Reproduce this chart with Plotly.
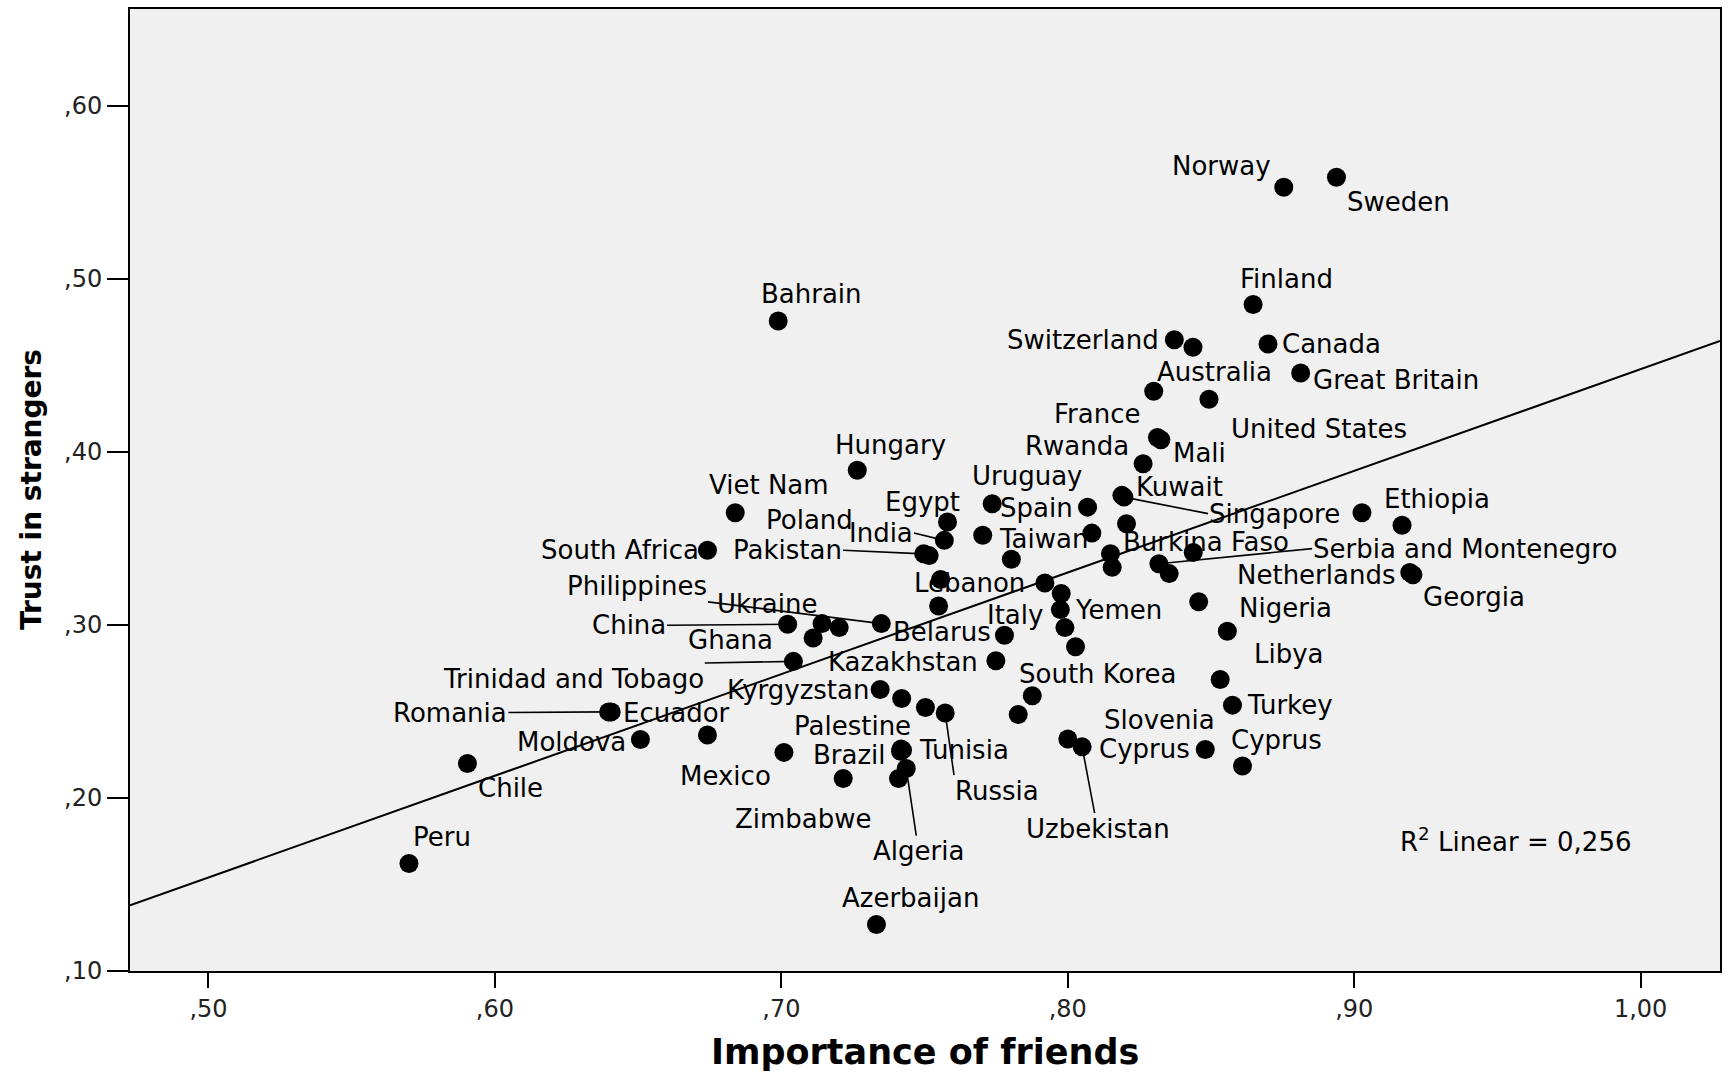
import numpy as np
import plotly.graph_objects as go

# ---------------- data ----------------
countries = [
    "Norway", "Sweden", "Finland", "Switzerland", None, "Canada", "Australia",
    "United States", "Great Britain", "France", "Mali", "Rwanda", "Kuwait",
    "Singapore", None, "Ethiopia", "Hungary", "Viet Nam", "Bahrain", "Uruguay",
    "Spain", "Egypt", "India", "Pakistan", "Poland", "Taiwan", None, None,
    "Burkina Faso", None, None, "Serbia and Montenegro", None, "Netherlands",
    "Georgia", "Nigeria", "Libya", "South Africa", None, None, "Lebanon", None,
    "Philippines", None, "Yemen", "China", None, "Ukraine", "Italy", "Belarus",
    "Ghana", None, "Trinidad and Tobago", "Kazakhstan", "South Korea", None,
    "Kyrgyzstan", None, None, "Russia", "Slovenia", "Turkey", "Romania",
    "Ecuador", "Moldova", None, "Mexico", "Palestine", "Brazil", "Tunisia",
    "Zimbabwe", "Algeria", None, None, "Uzbekistan", "Cyprus", "Cyprus",
    "Chile", "Peru", "Azerbaijan",
]
importance_of_friends = [
    0.8754, 0.8938, 0.8647, 0.8372, 0.8437, 0.8699, 0.8300,
    0.8493, 0.8813, 0.8313, 0.8325, 0.8263, 0.8189,
    0.8196, 0.9027, 0.9167, 0.7265, 0.6839, 0.6989, 0.7736,
    0.8069, 0.7580, 0.7569, 0.7497, 0.7516, 0.7703, 0.8084, 0.8205,
    0.8149, 0.8155, 0.8438, 0.8318, 0.8354, 0.9194,
    0.9205, 0.8457, 0.8557, 0.6742, 0.7803, 0.7556, 0.7920, 0.7977,
    0.7349, 0.7549, 0.7974, 0.7022, 0.7142, 0.7202, 0.7990, 0.7779,
    0.7111, 0.8027, 0.7042, 0.7749, 0.7876, 0.7827,
    0.7345, 0.7420, 0.7503, 0.7572, 0.8532, 0.8575, 0.6397,
    0.6406, 0.6508, 0.6742, 0.7009, 0.7418, 0.7416, 0.7423,
    0.7216, 0.7436, 0.7409, 0.8000, 0.8050, 0.8480, 0.8610,
    0.5904, 0.5700, 0.7332,
]
trust_in_strangers = [
    0.5528, 0.5586, 0.4851, 0.4647, 0.4604, 0.4623, 0.4350,
    0.4303, 0.4455, 0.4082, 0.4069, 0.3931, 0.3748,
    0.3738, 0.3648, 0.3575, 0.3893, 0.3648, 0.4755, 0.3700,
    0.3680, 0.3594, 0.3488, 0.3410, 0.3400, 0.3518, 0.3530, 0.3584,
    0.3411, 0.3332, 0.3418, 0.3353, 0.3296, 0.3302,
    0.3289, 0.3133, 0.2963, 0.3431, 0.3379, 0.3262, 0.3242, 0.3181,
    0.3007, 0.3109, 0.3088, 0.3003, 0.3007, 0.2984, 0.2984, 0.2940,
    0.2924, 0.2873, 0.2789, 0.2792, 0.2590, 0.2482,
    0.2626, 0.2574, 0.2522, 0.2491, 0.2684, 0.2536, 0.2497,
    0.2497, 0.2338, 0.2363, 0.2263, 0.2283, 0.2270, 0.2276,
    0.2112, 0.2170, 0.2112, 0.2340, 0.2295, 0.2280, 0.2184,
    0.2199, 0.1621, 0.1269,
]

x_ticks = [0.5, 0.6, 0.7, 0.8, 0.9, 1.0]
x_tick_labels = [",50", ",60", ",70", ",80", ",90", "1,00"]
y_ticks = [0.1, 0.2, 0.3, 0.4, 0.5, 0.6]
y_tick_labels = [",10", ",20", ",30", ",40", ",50", ",60"]
x_title = "Importance of friends"
y_title = "Trust in strangers"
r2_text = "R<sup>2</sup> Linear = 0,256"

# ---------------- label placement (pixel offsets from the point) ----------------
# (x anchor, y anchor, dx, dy, leader line) ; offsets measured on a 1568 px wide copy
S = 1729 / 1568
label_place = [
    ("right", "middle", -10.9, -19.7, False), ("left", "middle", 8.4, 22.1, False),
    ("center", "middle", 30.6, -23.3, False), ("right", "middle", -12.6, 0, False), None,
    ("left", "middle", 11.9, 0, False), ("left", "middle", 1.7, -17.3, False),
    ("left", "middle", 18.8, 26.6, False), ("left", "middle", 10.2, 6.7, False),
    ("right", "middle", -14.8, -21.1, False), ("left", "middle", 9.8, 12, False),
    ("right", "middle", -12.2, -15.8, False), ("left", "middle", 12.1, -7.6, False),
    ("left", "middle", 76.3, 15, True), None, ("center", "middle", 31.7, -24.1, False),
    ("center", "middle", 29.7, -23.3, False), ("center", "middle", 30.3, -24.8, False),
    ("center", "middle", 30.5, -24.2, False), ("center", "middle", 31.7, -24.8, False),
    ("right", "middle", -12, 0.6, False), ("center", "middle", -23, -18.1, False),
    ("right", "middle", -27.6, -6.7, True), ("right", "middle", -73.1, -3.3, True),
    ("right", "middle", -67.7, -32.5, False), ("left", "middle", 13.8, 3.1, False), None, None,
    ("left", "middle", 10.4, -10.6, False), None, None,
    ("left", "middle", 139, -13.7, True), None, ("right", "middle", -11.9, 2.4, False),
    ("left", "middle", 8, 20, False), ("left", "middle", 35.7, 5.5, False),
    ("left", "middle", 23.2, 20.3, False), ("right", "middle", -7, 0, False), None, None,
    ("right", "middle", -16.7, 0, False), None,
    ("right", "bottom", -157.2, -19.7, True), None, ("left", "middle", 12.8, 0.6, False),
    ("right", "middle", -109.4, 0.9, True), None, ("right", "middle", -19, -21.8, False),
    ("right", "middle", -19.1, -11.2, False), ("right", "middle", -11.1, -3, False),
    ("right", "middle", -35.4, 1.5, False), None,
    ("right", "top", -80.4, 1.5, True), ("right", "middle", -15.6, 1, False),
    ("center", "middle", 59.2, -19.6, False), None,
    ("right", "middle", -9.4, 0.6, False), None, None,
    ("left", "top", 8, 56.5, True), ("right", "middle", -3.4, 36.3, False),
    ("left", "middle", 11.9, 0, False), ("right", "middle", -90.9, 0.6, True),
    ("left", "middle", 10.2, 0.6, False), ("right", "middle", -12.1, 2.2, False), None,
    ("right", "middle", -10.4, 21.5, False), ("center", "middle", -44.1, -20.9, False),
    ("right", "middle", -12.1, 3.7, False), ("left", "middle", 13.7, 0.1, False),
    ("center", "middle", -35.9, 36.9, False), ("center", "middle", 11.2, 75, True), None, None,
    ("center", "middle", 14, 74.1, True), ("right", "middle", -12.9, 0, False),
    ("center", "middle", 30.9, -23.6, False),
    ("left", "middle", 9, 21.8, False), ("center", "middle", 29.5, -23.6, False),
    ("center", "middle", 30.5, -23.6, False),
]

x_range = [0.4726, 1.0277]
y_range = [0.10, 0.6558]

FONT = "DejaVu Sans"
label_font = dict(family=FONT, size=26, color="#000000")

# ---------------- figure ----------------
xv = np.array(importance_of_friends)
yv = np.array(trust_in_strangers)
slope, intercept = np.polyfit(xv, yv, 1)
fit_x = np.array(x_range)
fit_y = slope * fit_x + intercept

fig = go.Figure()
fig.add_trace(go.Scatter(
    x=fit_x, y=fit_y, mode="lines",
    line=dict(color="#000000", width=2), hoverinfo="skip", cliponaxis=True,
))
fig.add_trace(go.Scatter(
    x=importance_of_friends, y=trust_in_strangers, mode="markers",
    marker=dict(color="#000000", size=19, line=dict(width=0)),
    text=[c if c else "" for c in countries], hoverinfo="text",
))

annotations = []
for name, x, y, place in zip(countries, importance_of_friends, trust_in_strangers, label_place):
    if name is None or place is None:
        continue
    xa, ya, dx, dy, leader = place
    if leader:
        annotations.append(dict(
            x=x, y=y, xref="x", yref="y", text=name, showarrow=True,
            ax=dx * S, ay=dy * S, axref="pixel", ayref="pixel",
            arrowhead=0, arrowwidth=1.6, arrowcolor="#000000",
            standoff=0, startstandoff=0, xanchor=xa, yanchor=ya,
            font=label_font, borderpad=0,
        ))
    else:
        annotations.append(dict(
            x=x, y=y, xref="x", yref="y", text=name, showarrow=False,
            xshift=dx * S, yshift=-dy * S, xanchor=xa, yanchor=ya,
            font=label_font, borderpad=0,
        ))

# R squared note
annotations.append(dict(
    x=0.7972, y=0.1362, xref="paper", yref="paper", text=r2_text, showarrow=False,
    xanchor="left", yanchor="middle", font=dict(family=FONT, size=26, color="#000000"),
))
# axis titles
annotations.append(dict(
    x=0.5, y=0, xref="paper", yref="paper", text="<b>" + x_title + "</b>", showarrow=False,
    xanchor="center", yanchor="middle", yshift=-81,
    font=dict(family=FONT, size=35, color="#000000"),
))
annotations.append(dict(
    x=0, y=0.5, xref="paper", yref="paper", text="<b>" + y_title + "</b>", showarrow=False,
    xanchor="center", yanchor="middle", xshift=-99, textangle=-90,
    font=dict(family=FONT, size=28, color="#000000"),
))

axis_common = dict(
    showgrid=False, zeroline=False, showline=True, linecolor="#000000", linewidth=2,
    mirror=True, ticks="outside", tickwidth=2, tickcolor="#000000",
    tickfont=dict(family=FONT, size=24, color="#222222"),
)
fig.update_layout(
    width=1729, height=1074,
    margin=dict(l=130, r=7, t=8, b=103),
    paper_bgcolor="#FFFFFF", plot_bgcolor="#F0F0F0",
    showlegend=False,
    xaxis=dict(range=x_range, tickvals=x_ticks, ticktext=x_tick_labels, ticklen=15, **axis_common),
    yaxis=dict(range=y_range, tickvals=y_ticks, ticktext=y_tick_labels, ticklen=21, **axis_common),
    annotations=annotations,
)

fig.write_html("out.html", config={"displayModeBar": False},
               post_script="document.body.style.margin='0px';")
